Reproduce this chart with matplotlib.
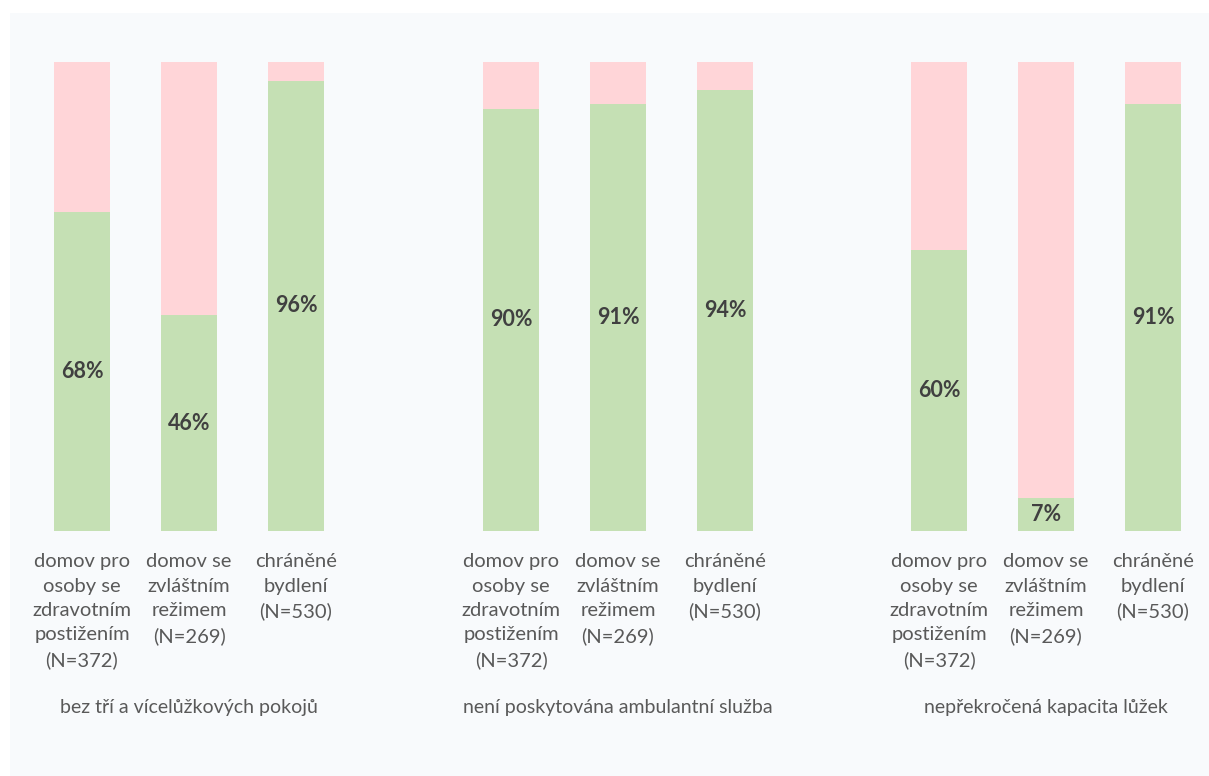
import matplotlib
matplotlib.use("Agg")
import matplotlib.pyplot as plt
from matplotlib.patches import Rectangle

plt.rcParams['font.family'] = ['Lato', 'DejaVu Sans']

categories = ["domov pro\nosoby se\nzdravotním\npostižením\n(N=372)",
              "domov se\nzvláštním\nrežimem\n(N=269)",
              "chráněné\nbydlení\n(N=530)"]
group_titles = ["bez tří a vícelůžkových pokojů",
                "není poskytována ambulantní služba",
                "nepřekročená kapacita lůžek"]
yes_values = [[68, 46, 96],
              [90, 91, 94],
              [60, 7, 91]]

green = "#C5E0B4"
pink = "#FFD5D8"

fig = plt.figure(figsize=(12.09, 7.76), dpi=100)
fig.patch.set_facecolor("white")
fig.patches.append(Rectangle((10 / 1209, 0), 1 - 10 / 1209, 1 - 13 / 776,
                             transform=fig.transFigure, facecolor="#F8FAFC",
                             edgecolor="none", zorder=-10))

lefts = [28.5, 457.5, 885.5]
for i in range(3):
    ax = fig.add_axes([lefts[i] / 1209, 245 / 776, 321 / 1209, 469 / 776])
    ax.set_facecolor("none")
    ax.set_zorder(5)
    x = range(len(categories))
    yes = yes_values[i]
    no = [100 - v for v in yes]
    ax.bar(x, yes, width=0.523, color=green)
    ax.bar(x, no, bottom=yes, width=0.523, color=pink)
    for xi, v in zip(x, yes):
        ax.text(xi, v / 2, f"{v}%", ha="center", va="center",
                fontsize=15.5, fontweight="bold", color="#404040")
    ax.set_xlim(-0.5, 2.5)
    ax.set_ylim(0, 100)
    ax.set_xticks(list(x))
    ax.set_xticklabels(categories, fontsize=14.5, color="#595959", linespacing=1.53,
                       va="top")
    ax.tick_params(axis="x", length=0, pad=16)
    ax.set_yticks([])
    for s in ax.spines.values():
        s.set_visible(False)
    ax.text(0.5, -0.377, group_titles[i], transform=ax.transAxes, ha="center",
            va="center", fontsize=14, color="#595959")

fig.savefig("out.png", dpi=100)
